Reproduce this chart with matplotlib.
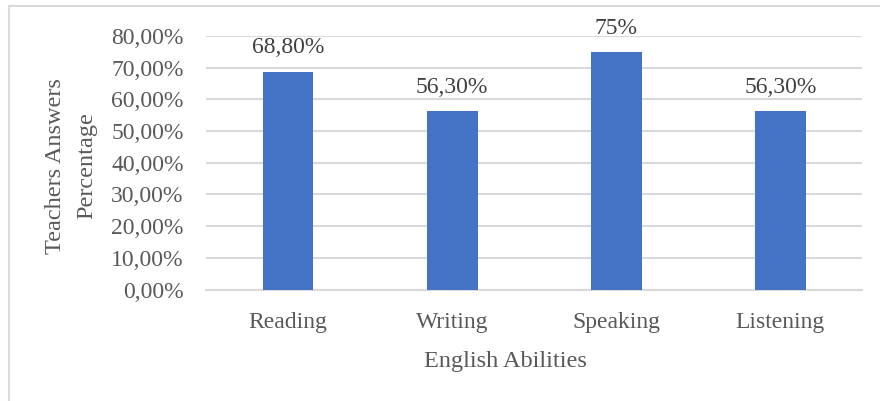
import numpy as np
import matplotlib.pyplot as plt
from matplotlib.ticker import FuncFormatter
from matplotlib.lines import Line2D

abilities = ['Reading', 'Writing', 'Speaking', 'Listening']
shares = [0.688, 0.563, 0.75, 0.563]
labels = ['68,80%', '56,30%', '75%', '56,30%']

plt.rcParams['font.family'] = ['Liberation Serif', 'DejaVu Serif']
txt = '#595959'
grid = '#D9D9D9'

fig = plt.figure(figsize=(8.8, 4.01), dpi=100)
ax = fig.add_axes([0.234, 0.278, 0.746, 0.632])

x = np.arange(len(abilities))
bars = ax.bar(x, shares, width=0.31, color='#4472C4', zorder=3)
for b, lab in zip(bars, labels):
    ax.annotate(lab, (b.get_x() + b.get_width() / 2, b.get_height()),
                xytext=(0, 9.5), textcoords='offset points',
                ha='center', va='bottom', fontsize=17, color='#404040')

ax.set_xlim(-0.5, len(abilities) - 0.5)
ax.set_ylim(0, 0.8)
ax.set_yticks(np.arange(0, 0.81, 0.1))
ax.yaxis.set_major_formatter(FuncFormatter(lambda v, p: f'{v*100:.2f}%'.replace('.', ',')))
ax.set_xticks(x)
ax.set_xticklabels(abilities)
ax.tick_params(axis='both', length=0, labelsize=17, colors=txt)
ax.tick_params(axis='y', pad=16)
ax.tick_params(axis='x', pad=16)
ax.grid(axis='y', color=grid, linewidth=1.5, zorder=0)
for s in ['left', 'right', 'top']:
    ax.spines[s].set_visible(False)
ax.spines['bottom'].set_color(grid)
ax.spines['bottom'].set_linewidth(1.5)

fig.text(505 / 880, 1 - 361 / 401, 'English Abilities', ha='center', va='center',
         fontsize=17.5, color=txt)
fig.text(71 / 880, 1 - 166 / 401, 'Teachers Answers\nPercentage', ha='center', va='center',
         rotation=90, fontsize=17.5, color=txt, linespacing=1.65)

# chart frame
fig.add_artist(Line2D([9 / 880, 9 / 880], [0, 1 - 6 / 401], transform=fig.transFigure,
                      color=grid, linewidth=1.5))
fig.add_artist(Line2D([9 / 880, 1], [1 - 6 / 401, 1 - 6 / 401], transform=fig.transFigure,
                      color=grid, linewidth=1.5))

fig.savefig('out.png', dpi=100)
